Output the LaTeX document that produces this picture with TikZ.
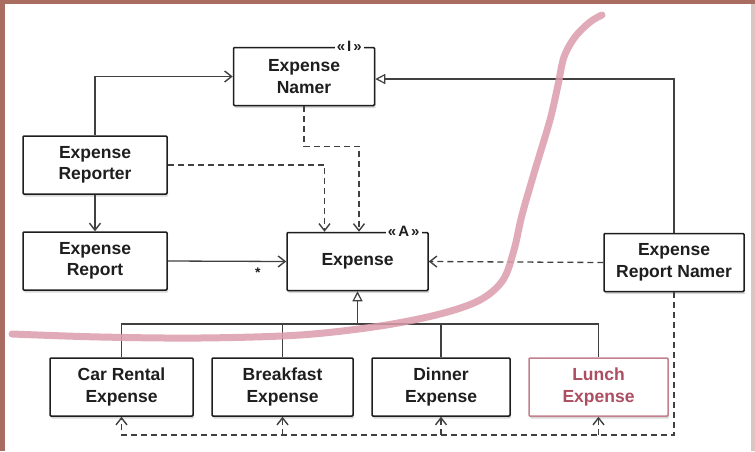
\documentclass[tikz,border=0pt]{standalone}
\usepackage{fontspec}
\setmainfont{Liberation Sans}
\usetikzlibrary{arrows.meta,shadows,calc}
\definecolor{ink}{RGB}{30,30,30}
\definecolor{pinkpen}{RGB}{220,156,172}
\definecolor{lunchred}{RGB}{172,78,98}
\definecolor{lunchborder}{RGB}{196,128,142}
\definecolor{framebrown}{RGB}{168,108,96}
\begin{document}
\begin{tikzpicture}[x=1pt,y=-1pt,
  umlbox/.style={draw=ink, line width=1.5pt, fill=white, rounded corners=1pt,
    minimum width=141pt, minimum height=58pt, align=center, inner sep=2pt,
    font=\fontsize{17.5}{21.5}\selectfont\bfseries, text=ink,
    drop shadow={shadow xshift=1.2pt, shadow yshift=-2.5pt, opacity=0.3}},
  stereo/.style={fill=white, inner xsep=2pt, inner ysep=1pt,
    font=\fontsize{15}{15}\selectfont\bfseries, text=ink},
  conn/.style={draw=ink!85, line width=1.3pt},
  dep/.style={conn, dash pattern=on 6pt off 4pt},
  barbtip/.style={-{Straight Barb[length=7pt,width=11pt,line width=1.4pt]}},
  realtip/.style={-{Triangle[open,length=10pt,width=10pt,fill=white,line width=1.2pt]}}
]
\useasboundingbox (0,0) rectangle (755,451);
\fill[white] (0,0) rectangle (755,451);
\fill[framebrown] (0,0) rectangle (755,4);
\fill[framebrown] (0,0) rectangle (5,451);
\fill[framebrown!40] (751,4) rectangle (755,451);

% nodes
\node[umlbox] (namer) at (304,76.5) {Expense\\Namer};
\node[umlbox, minimum width=144pt] (reporter) at (95,165) {Expense\\Reporter};
\node[umlbox, minimum width=144pt] (report) at (95,261) {Expense\\Report};
\node[umlbox] (expense) at (357.5,261.5) {Expense};
\node[umlbox, minimum width=140pt] (rnamer) at (674,262.5) {Expense\\Report Namer};
\node[umlbox, minimum width=143pt] (car) at (121.5,387) {Car Rental\\Expense};
\node[umlbox] (breakfast) at (282.5,387) {Breakfast\\Expense};
\node[umlbox, minimum width=138pt] (dinner) at (441,387) {Dinner\\Expense};
\node[umlbox, minimum width=139pt, draw=lunchborder, text=lunchred] (lunch) at (598.5,387) {Lunch\\Expense};

\node[stereo] (sti) at ([xshift=-26pt]namer.north east) {«\kern2pt I\kern2pt»};
\node[stereo] (sta) at ([xshift=-25pt]expense.north east) {«\kern2pt A\kern2pt»};

\coordinate (bus) at (357.5,324);
\coordinate (dbus) at (674,435);

% connectors
\draw[conn, barbtip] (reporter.north) |- (namer.west);
\draw[conn, barbtip] (reporter.south) -- (report.north);
\draw[dep, barbtip] (reporter.east) -| ([xshift=-33pt]expense.north);
\draw[dep, barbtip] (namer.south) -- ++(0,40) -| ([xshift=1.5pt]expense.north);
\draw[conn, barbtip] (report.east) -- (expense.west)
  node[pos=0.76, below=2pt, font=\fontsize{14}{14}\selectfont\bfseries, text=ink] (star) {*};
\draw[dep, barbtip] (rnamer.west) -- (expense.east);
\draw[conn, realtip] (rnamer.north) |- ([yshift=-2.5pt]namer.east);

\draw[conn, realtip] (bus) -- (expense.south);
\draw[conn] (car.north) -- (car.north |- bus) -- (lunch.north |- bus) -- (lunch.north);
\draw[conn] (breakfast.north) -- (breakfast.north |- bus);
\draw[conn] (dinner.north) -- (dinner.north |- bus);

\draw[dep, barbtip] (rnamer.south) -- (dbus) -| (car.south);
\draw[dep, barbtip] (breakfast.south |- dbus) -- (breakfast.south);
\draw[dep, barbtip] (dinner.south |- dbus) -- (dinner.south);
\draw[dep, barbtip] (lunch.south |- dbus) -- (lunch.south);

% pink hand-drawn stroke
\draw[pinkpen, line width=7pt, line cap=round, opacity=0.85]
  plot[smooth, tension=0.55] coordinates {(12,334) (100,337) (200,338) (300,335)
  (380,326) (440,314) (480,300) (503,280) (514,250) (522,215) (535,170)
  (550,120) (558,85) (564,57) (575,37) (590,22) (602,15)};
\end{tikzpicture}
\end{document}
